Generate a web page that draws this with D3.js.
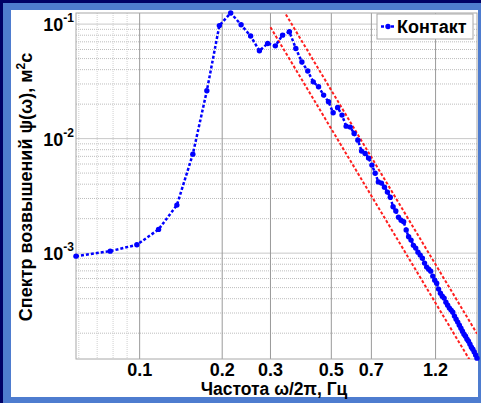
<!DOCTYPE html>
<html>
<head>
<meta charset="utf-8">
<script src="https://cdn.jsdelivr.net/npm/d3@7"></script>
<style>
  body { margin: 0; background: #000066; }
  svg { display: block; }
  text { font-family: "Liberation Sans", Arial, sans-serif; font-weight: bold; fill: #000; }
</style>
</head>
<body>
<svg id="chart" width="481" height="403"></svg>
<script>
// frequency, Hz (omega / 2pi)
const freq = [0.0586, 0.0781, 0.0977, 0.1172, 0.1367, 0.1563, 0.1758, 0.1953, 0.2148, 0.2344,
  0.2539, 0.2734, 0.2930, 0.3125, 0.3320, 0.3516, 0.3711, 0.3906, 0.4102, 0.4297,
  0.4492, 0.4688, 0.4883, 0.5078, 0.5273, 0.5469, 0.5664, 0.5859, 0.6055, 0.6250,
  0.6445, 0.6641, 0.6836, 0.7031, 0.7227, 0.7422, 0.7617, 0.7813, 0.8008, 0.8203,
  0.8398, 0.8594, 0.8789, 0.8984, 0.9180, 0.9375, 0.9570, 0.9766, 0.9961, 1.0156,
  1.0352, 1.0547, 1.0742, 1.0938, 1.1133, 1.1328, 1.1523, 1.1719, 1.1914, 1.2109,
  1.2305, 1.2500, 1.2695, 1.2891, 1.3086, 1.3281, 1.3477, 1.3672, 1.3867, 1.4063,
  1.4258, 1.4453, 1.4648, 1.4844, 1.5039, 1.5234, 1.5430, 1.5625, 1.5820, 1.6016,
  1.6211, 1.6406, 1.6602, 1.6797, 1.6992];

// spectrum "Контакт", m^2 s
const spectrum = [9.41e-4, 1.041e-3, 1.182e-3, 1.611e-3, 2.626e-3, 7.32e-3, 0.02616, 0.0970, 0.1250, 0.0986,
  0.0786, 0.0584, 0.0678, 0.0646, 0.0801, 0.0857, 0.0613, 0.0466, 0.0389, 0.0313,
  0.02834, 0.02399, 0.02097, 0.01680, 0.01873, 0.01604, 0.01285, 0.01260, 0.01110, 9.70e-3,
  7.78e-3, 7.43e-3, 6.76e-3, 5.87e-3, 4.99e-3, 4.19e-3, 4.09e-3, 3.77e-3, 3.41e-3, 3.08e-3,
  2.54e-3, 2.33e-3, 2.06e-3, 1.94e-3, 1.88e-3, 1.59e-3, 1.39e-3, 1.30e-3, 1.17e-3, 1.106e-3,
  1.020e-3, 9.61e-4, 9.04e-4, 8.18e-4, 7.55e-4, 7.25e-4, 6.96e-4, 6.30e-4, 5.81e-4, 5.47e-4,
  4.85e-4, 4.47e-4, 4.21e-4, 4.05e-4, 3.73e-4, 3.51e-4, 3.31e-4, 3.18e-4, 3.05e-4, 2.82e-4,
  2.65e-4, 2.50e-4, 2.35e-4, 2.21e-4, 2.08e-4, 1.96e-4, 1.88e-4, 1.77e-4, 1.70e-4, 1.60e-4,
  1.51e-4, 1.45e-4, 1.37e-4, 1.29e-4, 1.21e-4];

// two omega^-4 guide lines: S = A * f^-4
const guideCoef = [0.00165, 0.00076];
const guideFreq = [0.3, 1.7];

const xDomain = [0.0586, 1.6992];
const yDomain = [1.19e-4, 0.125];
const xTicks = [0.1, 0.2, 0.3, 0.5, 0.7, 1.2];
const xMinor = [0.06, 0.07, 0.08, 0.09];
const yTicks = [1e-3, 1e-2, 1e-1];
const yExp = ["-3", "-2", "-1"];
const legendLabel = "Контакт";

const svg = d3.select("#chart");
const W = 481, H = 403;

// frame: navy edge, blue band, white panel
svg.append("rect").attr("x", 3).attr("y", 3).attr("width", W - 3).attr("height", H - 3).attr("fill", "#4e7ccf");
svg.append("rect").attr("x", 11).attr("y", 10).attr("width", 467).attr("height", 387).attr("fill", "#fff");

const m = {left: 76, top: 13, right: 477, bottom: 359};

const x = d3.scaleLog().domain(xDomain).range([m.left, m.right]);
const y = d3.scaleLog().domain(yDomain).range([m.bottom, m.top]);

svg.append("defs").append("clipPath").attr("id", "plotclip")
  .append("rect").attr("x", m.left).attr("y", m.top)
  .attr("width", m.right - m.left).attr("height", m.bottom - m.top);

const grid = svg.append("g");

// minor horizontal grid
const yMinor = [];
[1e-4, 1e-3, 1e-2].forEach(d => {
  for (let k = 2; k <= 9; k++) {
    const v = d * k;
    if (v > yDomain[0] && v < yDomain[1]) yMinor.push(v);
  }
});
grid.selectAll(".ymin").data(yMinor).enter().append("line")
  .attr("x1", m.left).attr("x2", m.right)
  .attr("y1", d => y(d)).attr("y2", d => y(d))
  .attr("stroke", "#bdbdbd").attr("stroke-width", 1).attr("stroke-dasharray", "1,1");

grid.selectAll(".ymaj").data(yTicks).enter().append("line")
  .attr("x1", m.left).attr("x2", m.right)
  .attr("y1", d => y(d)).attr("y2", d => y(d))
  .attr("stroke", "#c8c8c8").attr("stroke-width", 1);

grid.selectAll(".xmin").data(xMinor).enter().append("line")
  .attr("y1", m.top).attr("y2", m.bottom)
  .attr("x1", d => x(d)).attr("x2", d => x(d))
  .attr("stroke", "#d0d0d0").attr("stroke-width", 1).attr("stroke-dasharray", "1,1");

grid.selectAll(".xmaj").data(xTicks).enter().append("line")
  .attr("y1", m.top).attr("y2", m.bottom)
  .attr("x1", d => x(d)).attr("x2", d => x(d))
  .attr("stroke", "#9a9a9a").attr("stroke-width", 1);

// axes box
svg.append("rect").attr("x", m.left).attr("y", m.top)
  .attr("width", m.right - m.left).attr("height", m.bottom - m.top)
  .attr("fill", "none").attr("stroke", "#a8a8a8").attr("stroke-width", 1);

// x tick labels
svg.selectAll(".xt").data(xTicks).enter().append("text")
  .attr("x", d => x(d)).attr("y", 376)
  .attr("text-anchor", "middle").attr("font-size", 18)
  .text(d => d);

// y tick labels 10^n
const yt = svg.selectAll(".yt").data(yTicks).enter().append("text")
  .attr("x", 74).attr("y", d => y(d) + 7)
  .attr("text-anchor", "end").attr("font-size", 18);
yt.append("tspan").text("10");
yt.append("tspan").attr("dy", -9).attr("font-size", 12).text((d, i) => yExp[i]);

// axis titles
svg.append("text").attr("x", 274).attr("y", 395)
  .attr("text-anchor", "middle").attr("font-size", 17.5)
  .text("Частота ω/2π, Гц");

const yl = svg.append("text")
  .attr("transform", "translate(32,187) rotate(-90)")
  .attr("text-anchor", "middle").attr("font-size", 18);
yl.append("tspan").text("Спектр возвышений ψ(ω), м");
yl.append("tspan").attr("dy", -7).attr("font-size", 12).text("2");
yl.append("tspan").attr("dy", 7).text("с");

// guide lines
const line = d3.line().x(d => x(d[0])).y(d => y(d[1]));
svg.append("g").attr("clip-path", "url(#plotclip)")
  .selectAll("path").data(guideCoef).enter().append("path")
  .attr("d", a => line(guideFreq.map(f => [f, a / Math.pow(f, 4)])))
  .attr("fill", "none").attr("stroke", "#ff1e1e").attr("stroke-width", 2)
  .attr("stroke-dasharray", "3,2");

// data series
const pts = freq.map((f, i) => [f, spectrum[i]]);
svg.append("path").attr("d", line(pts))
  .attr("fill", "none").attr("stroke", "#0000ff").attr("stroke-width", 2.5)
  .attr("stroke-dasharray", "3,2");
svg.append("g").selectAll("circle").data(pts).enter().append("circle")
  .attr("cx", d => x(d[0])).attr("cy", d => y(d[1])).attr("r", 2.7)
  .attr("fill", "#0000ff");

// legend
const lg = svg.append("g");
lg.append("rect").attr("x", 377).attr("y", 14).attr("width", 96).attr("height", 25)
  .attr("fill", "#fff").attr("stroke", "#a8a8a8");
lg.append("line").attr("x1", 381).attr("x2", 396).attr("y1", 26.5).attr("y2", 26.5)
  .attr("stroke", "#0000ff").attr("stroke-width", 2.5).attr("stroke-dasharray", "3,2");
lg.append("circle").attr("cx", 388).attr("cy", 26.5).attr("r", 2.7).attr("fill", "#0000ff");
lg.append("text").attr("x", 397).attr("y", 33).attr("font-size", 18).text(legendLabel);
</script>
</body>
</html>
